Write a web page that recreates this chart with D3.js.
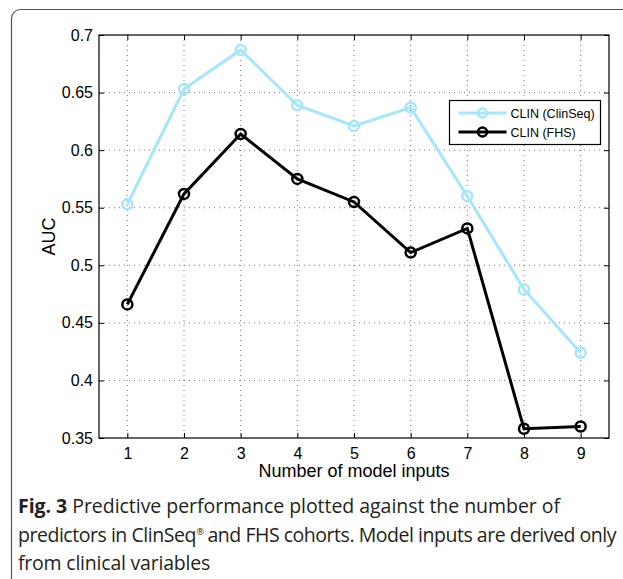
<!DOCTYPE html>
<html>
<head>
<meta charset="utf-8">
<script src="https://cdn.jsdelivr.net/npm/d3@7"></script>
<style>
  body { margin: 0; background: #fff; }
  svg { display: block; }
  .cap text { white-space: pre; }
</style>
</head>
<body>
<svg id="chart" width="623" height="579"></svg>
<script>
// data
const inputs = [1, 2, 3, 4, 5, 6, 7, 8, 9];
const clinSeq = [0.553, 0.653, 0.687, 0.639, 0.621, 0.637, 0.560, 0.479, 0.424];
const fhs = [0.466, 0.562, 0.614, 0.575, 0.555, 0.511, 0.532, 0.358, 0.360];
const yTicks = [0.35, 0.4, 0.45, 0.5, 0.55, 0.6, 0.65, 0.7];
const seriesNames = ['CLIN (ClinSeq)', 'CLIN (FHS)'];
// caption pieces per line: {bold, text, sup}
const captionLines = [
    [{bold: 'Fig. 3', text: ' Predictive performance plotted against the number of'}],
    [{text: 'predictors in ClinSeq', sup: '\u00ae'}, {text: ' and FHS cohorts. Model inputs are derived only'}],
    [{text: 'from clinical variables'}]
];
const captionWidths = [542, 598, 192];

const svg = d3.select('#chart');
const margin = {left: 99, top: 35, right: 14, bottom: 141};
const width = 623 - margin.left - margin.right;
const height = 579 - margin.top - margin.bottom;

// outer rounded frame
svg.append('rect')
    .attr('x', 11.5).attr('y', 9.5)
    .attr('width', 640).attr('height', 600)
    .attr('rx', 9)
    .attr('fill', 'none')
    .attr('stroke', '#555')
    .attr('stroke-width', 1.2);

const g = svg.append('g')
    .attr('transform', `translate(${margin.left},${margin.top})`);

const x = d3.scaleLinear().domain([0.5, 9.5]).range([0, width]);
const y = d3.scaleLinear().domain([0.35, 0.7]).range([height, 0]);

// dotted grid
g.append('g')
    .selectAll('line')
    .data(inputs)
    .join('line')
    .attr('x1', d => x(d)).attr('x2', d => x(d))
    .attr('y1', 0).attr('y2', height)
    .attr('stroke', '#555')
    .attr('stroke-width', 0.8)
    .attr('stroke-dasharray', '1,4');

g.append('g')
    .selectAll('line')
    .data(yTicks.slice(1, -1))
    .join('line')
    .attr('x1', 0).attr('x2', width)
    .attr('y1', d => y(d)).attr('y2', d => y(d))
    .attr('stroke', '#555')
    .attr('stroke-width', 0.8)
    .attr('stroke-dasharray', '1,4');

// axes
const xAxis = g.append('g')
    .attr('transform', `translate(0,${height})`)
    .call(d3.axisBottom(x).tickValues(inputs).tickSize(-5).tickPadding(10).tickFormat(d3.format('d')));
const xAxisTop = g.append('g')
    .call(d3.axisTop(x).tickValues(inputs).tickSize(-5).tickFormat(''));
const yAxis = g.append('g')
    .call(d3.axisLeft(y).tickValues(yTicks).tickSize(-5).tickPadding(6).tickFormat(d => d3.format('')(+d.toFixed(2))));
const yAxisRight = g.append('g')
    .attr('transform', `translate(${width},0)`)
    .call(d3.axisRight(y).tickValues(yTicks).tickSize(-5).tickFormat(''));

[xAxis, xAxisTop, yAxis, yAxisRight].forEach(a => {
    a.select('.domain').remove();
    a.selectAll('line').attr('stroke', '#000').attr('stroke-width', 1);
    a.selectAll('text')
        .attr('font-family', 'Liberation Sans, Arial, sans-serif')
        .attr('font-size', 16)
        .attr('fill', '#000');
});

g.append('rect')
    .attr('width', width).attr('height', height)
    .attr('fill', 'none')
    .attr('stroke', '#000')
    .attr('stroke-width', 1.2);

// axis titles
g.append('text')
    .attr('x', x(5)).attr('y', height + 39)
    .attr('text-anchor', 'middle')
    .attr('font-family', 'Liberation Sans, Arial, sans-serif')
    .attr('font-size', 18)
    .text('Number of model inputs');

g.append('text')
    .attr('transform', `translate(-44,${y(0.525)}) rotate(-90)`)
    .attr('text-anchor', 'middle')
    .attr('font-family', 'Liberation Sans, Arial, sans-serif')
    .attr('font-size', 18)
    .text('AUC');

// series
const line = d3.line().x((d, i) => x(inputs[i])).y(d => y(d));
const series = [
    {name: seriesNames[0], values: clinSeq, color: '#a6e6fb'},
    {name: seriesNames[1], values: fhs, color: '#000000'}
];

series.forEach(s => {
    g.append('path')
        .datum(s.values)
        .attr('d', line)
        .attr('fill', 'none')
        .attr('stroke', s.color)
        .attr('stroke-width', 3);
    g.append('g')
        .selectAll('circle')
        .data(s.values)
        .join('circle')
        .attr('cx', (d, i) => x(inputs[i]))
        .attr('cy', d => y(d))
        .attr('r', 5)
        .attr('fill', 'none')
        .attr('stroke', s.color)
        .attr('stroke-width', 2.5);
});

// legend
const legend = g.append('g').attr('transform', `translate(${449.5 - margin.left},${100.5 - margin.top})`);
legend.append('rect')
    .attr('width', 151).attr('height', 44)
    .attr('fill', '#fff')
    .attr('stroke', '#000')
    .attr('stroke-width', 1.2);
series.forEach((s, i) => {
    const ly = 12.5 + i * 19;
    legend.append('line')
        .attr('x1', 9).attr('x2', 57)
        .attr('y1', ly).attr('y2', ly)
        .attr('stroke', s.color)
        .attr('stroke-width', 3);
    legend.append('circle')
        .attr('cx', 33).attr('cy', ly).attr('r', 4.5)
        .attr('fill', 'none')
        .attr('stroke', s.color)
        .attr('stroke-width', 2.5);
    legend.append('text')
        .attr('x', 61).attr('y', ly + 4.5)
        .attr('font-family', 'Liberation Sans, Arial, sans-serif')
        .attr('font-size', 12.5)
        .text(s.name);
});

// caption: letter-spacing per line so each line fills its measured width
const cap = svg.append('g')
    .attr('class', 'cap')
    .attr('font-family', 'Open Sans, sans-serif')
    .attr('font-size', 19.5)
    .attr('fill', '#231f20');
captionLines.forEach((pieces, i) => {
    const baseY = 513 + i * 28.5;
    const texts = pieces.map(p => {
        const t = cap.append('text').attr('y', baseY);
        if (p.bold) t.append('tspan').attr('font-weight', 'bold').text(p.bold);
        t.append('tspan').text(p.text);
        return t;
    });
    const nChars = d3.sum(pieces, p => (p.bold || '').length + p.text.length);
    const natural = d3.sum(texts, t => t.node().getComputedTextLength()) + (pieces[0].sup ? 7 : 0);
    const ls = (captionWidths[i] - natural) / nChars;
    let cx = 18;
    texts.forEach((t, j) => {
        t.attr('x', cx).attr('letter-spacing', ls);
        cx += t.node().getComputedTextLength();
        if (pieces[j].sup) {
            cap.append('text')
                .attr('x', cx + 0.5).attr('y', baseY - 7)
                .attr('font-size', 9.5)
                .text(pieces[j].sup);
            cx += 7;
        }
    });
});
</script>
</body>
</html>
